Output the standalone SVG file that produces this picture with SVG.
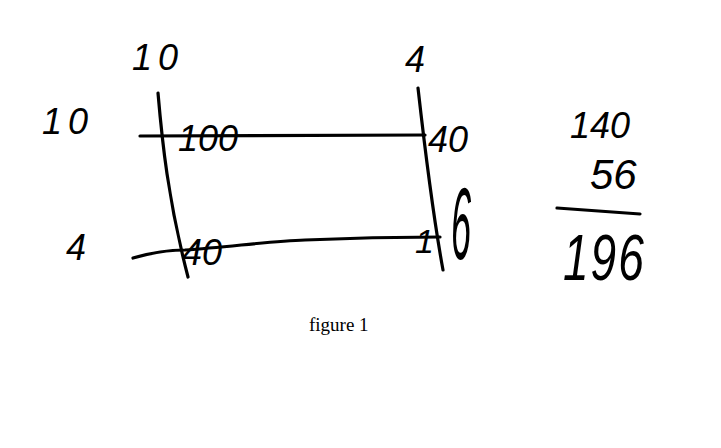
<svg xmlns="http://www.w3.org/2000/svg" width="721" height="448" viewBox="0 0 721 448">
<style>
.hw{font-family:"Liberation Sans",Arial,sans-serif;font-size:36px;fill:#000;font-style:italic}
.ln{fill:none;stroke:#000;stroke-width:3.2;stroke-linecap:round}
.cap{font-family:"Liberation Serif","Times New Roman",serif;font-size:19px;fill:#000}
</style>
<rect width="721" height="448" fill="#fff"/>
<g id="connectors">
<path class="ln" d="M140,136 L425,135"/>
<path class="ln" d="M133,258 C150,253 165,250 185,250 C230,247 270,241 305,240 C350,238 400,237 440,237"/>
<path class="ln" d="M158,93 C162,140 168,200 188,277"/>
<path class="ln" d="M418,88 C425,150 432,210 443,270"/>
<path class="ln" d="M557,208 L640,214"/>
</g>
<g id="top-10"><text class="hw" x="132" y="70" letter-spacing="6">10</text></g>
<g id="top-4"><text class="hw" x="405" y="72">4</text></g>
<g id="left-10"><text class="hw" x="42" y="134" letter-spacing="6">10</text></g>
<g id="left-4"><text class="hw" x="66" y="260">4</text></g>
<g id="cell-100"><text class="hw" x="178" y="151" style="font-size:36px">100</text></g>
<g id="cell-40a"><text class="hw" x="428" y="152" style="font-size:36px">40</text></g>
<g id="cell-40b"><text class="hw" x="182" y="265" style="font-size:36px">40</text></g>
<g id="cell-16"><text class="hw" x="415" y="253" style="font-size:34px">1</text><text class="hw" transform="translate(451,259) scale(0.95,2.7)" x="0" y="0" style="font-size:38px">6</text></g>
<g id="sum-140"><text class="hw" x="570" y="138" style="font-size:36px">140</text></g>
<g id="sum-56"><text class="hw" x="590" y="189" style="font-size:42px">56</text></g>
<g id="sum-196"><text class="hw" transform="translate(563,280) scale(1,1.4)" x="0" y="0" style="font-size:46px" letter-spacing="2">196</text></g>
<g id="caption"><text class="cap" x="309" y="331">figure 1</text></g>
</svg>
